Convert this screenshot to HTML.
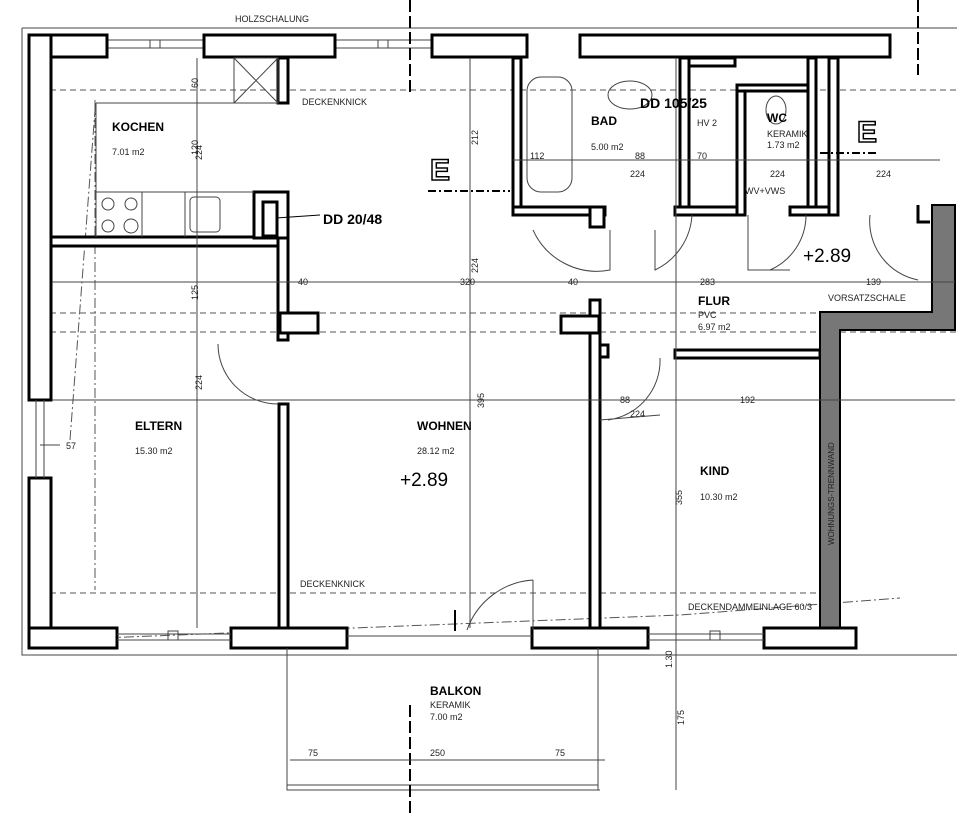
<!DOCTYPE html>
<html><head><meta charset="utf-8"><style>
html,body{margin:0;padding:0;background:#fff;}
svg{display:block;font-family:"Liberation Sans",sans-serif;}
.w{fill:#fff;stroke:#000;stroke-width:3}
.t{font-size:9px;fill:#222}
.b{font-size:12px;font-weight:bold;fill:#000}
.thin{stroke:#444;stroke-width:1;fill:none}
.dash{stroke:#555;stroke-width:1;fill:none;stroke-dasharray:6 4}
.dd{stroke:#555;stroke-width:1;fill:none;stroke-dasharray:10 3 2 3}
</style></head><body>
<svg width="957" height="814" viewBox="0 0 957 814" xmlns="http://www.w3.org/2000/svg">
<path class="thin" d="M22 28 H957 M22 28 V655 H957"/>
<path class="dash" d="M30 90 H957 M30 313 H957 M30 332 H957 M30 593 H820"/>
<path class="dd" d="M52 640 L680 615 L900 598"/>
<path class="dd" d="M95 100 L95 590 M70 440 L95 110"/>
<path class="thin" d="M108 40 H203 M108 48 H203 M335 40 H432 M335 48 H432"/>
<rect x="150" y="40" width="10" height="8" class="thin"/><rect x="378" y="40" width="10" height="8" class="thin"/>
<rect class="w" x="29" y="35" width="78" height="22"/>
<rect class="w" x="204" y="35" width="131" height="22"/>
<rect class="w" x="432" y="35" width="95" height="22"/>
<rect class="w" x="580" y="35" width="310" height="22"/>
<rect class="w" x="29" y="35" width="22" height="365"/>
<rect class="w" x="29" y="478" width="22" height="170"/>
<path class="thin" d="M36 400 V478 M44 400 V478"/>
<rect class="w" x="51" y="237" width="227" height="9"/>
<rect class="w" x="278" y="192" width="10" height="148"/>
<rect class="w" x="254" y="192" width="34" height="46"/>
<rect class="w" x="263" y="202" width="14" height="34"/>
<rect class="w" x="280" y="313" width="38" height="20"/>
<rect class="w" x="278" y="58" width="10" height="45"/>
<path class="thin" d="M96 103 H278 M96 103 V237 M96 192 H254 M142 192 V237 M185 192 V237"/>
<circle cx="108" cy="204" r="6" class="thin"/><circle cx="131" cy="204" r="6" class="thin"/>
<circle cx="108" cy="226" r="6" class="thin"/><circle cx="131" cy="226" r="7" class="thin"/>
<rect x="190" y="197" width="30" height="35" rx="4" class="thin"/>
<rect x="234" y="58" width="44" height="45" class="thin"/><path class="thin" d="M234 58 L278 103 M278 58 L234 103"/>
<rect class="w" x="279" y="404" width="9" height="226"/>
<path class="thin" d="M218 344 A60 60 0 0 0 278 404"/>
<rect class="w" x="590" y="300" width="10" height="330"/>
<rect class="w" x="561" y="316" width="38" height="17"/>
<rect class="w" x="600" y="345" width="8" height="12"/>
<rect class="w" x="513" y="58" width="8" height="157"/>
<rect class="w" x="513" y="207" width="92" height="8"/>
<rect class="w" x="590" y="207" width="14" height="20"/>
<rect class="w" x="680" y="58" width="9" height="157"/>
<rect class="w" x="675" y="207" width="70" height="8"/>
<rect class="w" x="737" y="86" width="8" height="129"/>
<rect class="w" x="689" y="58" width="46" height="8"/>
<rect class="w" x="737" y="85" width="78" height="6"/>
<rect class="w" x="808" y="58" width="8" height="157"/>
<rect class="w" x="790" y="207" width="48" height="8"/>
<rect class="w" x="829" y="58" width="9" height="157"/>
<rect x="527" y="77" width="45" height="115" rx="14" class="thin"/>
<ellipse cx="630" cy="95" rx="22" ry="14" class="thin"/>
<ellipse cx="776" cy="110" rx="10" ry="14" class="thin"/>
<path class="thin" d="M610 230 V270 A70 70 0 0 1 533 230 M655 230 V270 A65 65 0 0 0 692 215 M748 215 V270 H790 M806 215 A60 60 0 0 1 770 270 M870 215 A60 60 0 0 0 918 280"/>
<rect class="w" x="675" y="350" width="145" height="8"/>
<path class="thin" d="M600 420 L660 415 M660 358 A60 60 0 0 1 608 420"/>
<path d="M820 312 H932 V205 H955 V330 H840 V638 H820 Z" fill="#777" stroke="#000" stroke-width="2"/>
<path d="M918 205 V222 H930" stroke="#000" stroke-width="3" fill="none"/>
<rect class="w" x="29" y="628" width="88" height="20"/>
<rect class="w" x="231" y="628" width="116" height="20"/>
<rect class="w" x="532" y="628" width="116" height="20"/>
<rect class="w" x="764" y="628" width="92" height="20"/>
<path class="thin" d="M117 634 H231 M117 640 H231 M347 636 H532 M648 634 H764 M648 640 H764"/>
<rect x="168" y="631" width="10" height="9" class="thin"/><rect x="710" y="631" width="10" height="9" class="thin"/>
<path d="M455 610 V631" stroke="#000" stroke-width="2"/>
<path class="thin" d="M533 580 V630 M533 580 A75 75 0 0 0 467 630"/>
<path class="thin" d="M287 648 V790 H600 M598 648 V790 M287 785 H598"/>
<path class="thin" d="M290 760 H605"/>
<path d="M410 705 V814 M410 0 V95" stroke="#000" stroke-width="2" stroke-dasharray="12 4"/>
<path d="M918 0 V75" stroke="#000" stroke-width="2" stroke-dasharray="12 4"/>
<path d="M428 191 H510 M820 153 H878" stroke="#000" stroke-width="2" stroke-dasharray="8 3 2 3"/>
<path class="thin" d="M197 58 V628 M470 58 V628 M676 58 V790 M52 282 H955 M52 400 H840 M600 400 H955 M40 445 H60 M300 760 H600 M513 160 H940"/>
<text x="430" y="180" style="font-size:30px;font-weight:bold" fill="none" stroke="#000" stroke-width="1.5">E</text>
<text x="857" y="142" style="font-size:30px;font-weight:bold" fill="none" stroke="#000" stroke-width="1.5">E</text>
<text x="235" y="22" class="t">HOLZSCHALUNG</text>
<text x="302" y="105" class="t">DECKENKNICK</text>
<text x="300" y="587" class="t">DECKENKNICK</text>
<text x="688" y="610" class="t">DECKENDAMMEINLAGE 60/3</text>
<text x="828" y="301" class="t">VORSATZSCHALE</text>
<text x="112" y="131" class="b">KOCHEN</text><text x="112" y="155" class="t">7.01 m2</text>
<text x="323" y="224" style="font-size:14px;font-weight:bold">DD 20/48</text>
<path d="M276 218 L320 215" stroke="#000"/>
<text x="591" y="125" class="b">BAD</text><text x="591" y="150" class="t">5.00 m2</text>
<text x="640" y="108" style="font-size:14px;font-weight:bold">DD 105/25</text>
<text x="697" y="126" class="t">HV 2</text>
<text x="767" y="122" class="b">WC</text><text x="767" y="137" class="t">KERAMIK</text><text x="767" y="148" class="t">1.73 m2</text>
<text x="745" y="194" class="t">WV+VWS</text>
<text x="803" y="262" style="font-size:19px">+2.89</text>
<text x="698" y="305" class="b">FLUR</text><text x="698" y="318" class="t">PVC</text><text x="698" y="330" class="t">6.97 m2</text>
<text x="135" y="430" class="b">ELTERN</text><text x="135" y="454" class="t">15.30 m2</text>
<text x="417" y="430" class="b">WOHNEN</text><text x="417" y="454" class="t">28.12 m2</text>
<text x="400" y="486" style="font-size:19px">+2.89</text>
<text x="700" y="475" class="b">KIND</text><text x="700" y="500" class="t">10.30 m2</text>
<text x="430" y="695" class="b">BALKON</text><text x="430" y="708" class="t">KERAMIK</text><text x="430" y="720" class="t">7.00 m2</text>
<text x="308" y="756" class="t">75</text><text x="430" y="756" class="t">250</text><text x="555" y="756" class="t">75</text>
<text x="298" y="285" class="t">40</text><text x="460" y="285" class="t">320</text>
<text x="568" y="285" class="t">40</text><text x="700" y="285" class="t">283</text><text x="866" y="285" class="t">139</text>
<text x="530" y="159" class="t">112</text><text x="635" y="159" class="t">88</text><text x="630" y="177" class="t">224</text>
<text x="697" y="159" class="t">70</text><text x="770" y="177" class="t">224</text><text x="876" y="177" class="t">224</text>
<text x="620" y="403" class="t">88</text><text x="630" y="417" class="t">224</text><text x="740" y="403" class="t">192</text>
<text x="66" y="449" class="t">57</text>
<text x="12" y="0" class="t" transform="translate(672 680) rotate(-90)">1.30</text>
<text x="0" y="0" class="t" transform="translate(684 725) rotate(-90)">175</text>
<text x="0" y="0" class="t" transform="translate(484 408) rotate(-90)">395</text>
<text x="0" y="0" class="t" transform="translate(682 505) rotate(-90)">355</text>
<text x="0" y="0" class="t" transform="translate(478 273) rotate(-90)">224</text>
<text x="0" y="0" class="t" transform="translate(202 160) rotate(-90)">224</text>
<text x="0" y="0" class="t" transform="translate(202 390) rotate(-90)">224</text>
<text x="0" y="0" class="t" transform="translate(198 300) rotate(-90)">125</text>
<text x="0" y="0" class="t" transform="translate(198 155) rotate(-90)">120</text>
<text x="0" y="0" class="t" transform="translate(198 88) rotate(-90)">60</text>
<text x="0" y="0" class="t" transform="translate(478 145) rotate(-90)">212</text>
<text x="0" y="0" class="t" transform="translate(834 545) rotate(-90)" style="font-size:8px">WOHNUNGS-TRENNWAND</text>
</svg>
</body></html>
